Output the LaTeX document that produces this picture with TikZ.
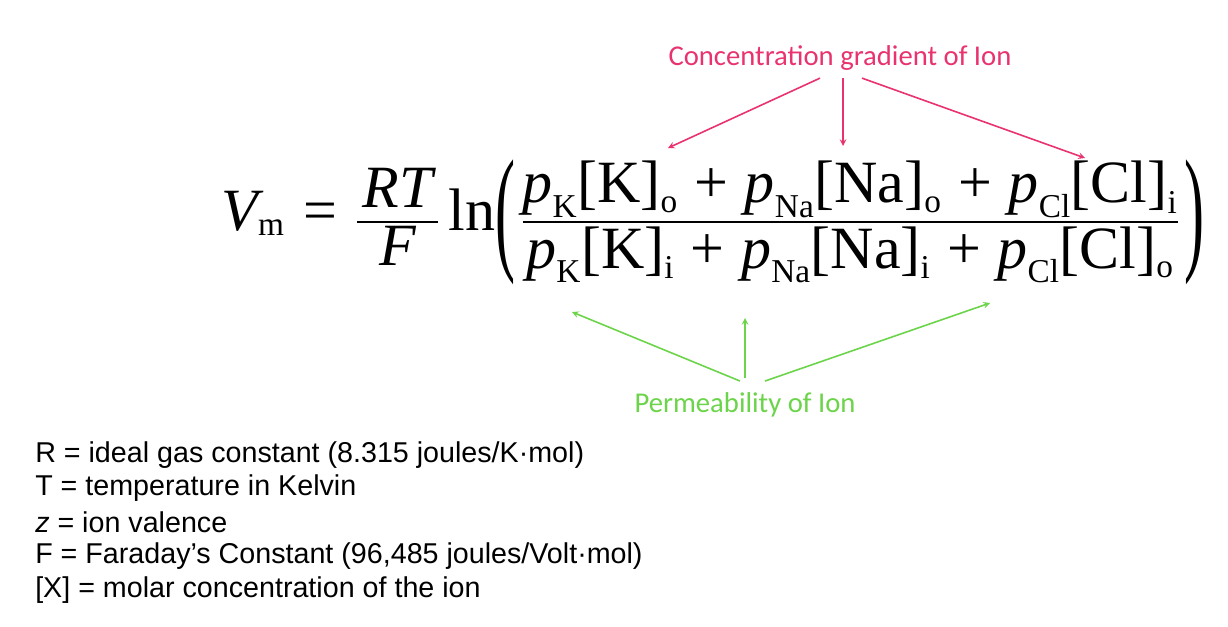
\documentclass[tikz,border=0pt]{standalone}
\usepackage{amsmath}
\usepackage{graphicx}
\usepackage{fontspec}
\setmainfont{Liberation Serif}
\newfontfamily\calib{Carlito}
\newfontfamily\arial{Liberation Sans}
\definecolor{pinkc}{HTML}{E8336E}
\definecolor{greenc}{HTML}{6CD44A}
\newcommand{\vi}[1]{\text{\itshape #1}}
\newcommand{\vu}[1]{\text{\upshape #1}}
\newcommand{\mysub}[1]{_{\hbox{\upshape\fontsize{25}{27}\selectfont #1}}}
\newcommand{\pl}{\;\mathbin{\vu{+}}\;}
\newcommand{\bigpar}[1]{\vcenter{\hbox{\scalebox{1}[2.3]{\upshape #1}}}}
\begin{document}
\begin{tikzpicture}[x=0.75pt,y=-0.75pt,
  lbl/.style={font=\calib\fontsize{21.5}{25}\selectfont},
  desc/.style={anchor=west,font=\arial\fontsize{21.5}{25}\selectfont,inner sep=0},
  parr/.style={draw=pinkc,line width=1.2pt,-stealth},
  garr/.style={draw=greenc,line width=1.2pt,-stealth}]
\useasboundingbox (0,0) rectangle (1228,626);
\node (eq) at (713,222) {\fontsize{45}{52}\selectfont$\vi{V}\mysub{m} \;\mathrel{\vu{=}}\; \dfrac{\,\vi{RT}\,}{\vi{F}}\;\vu{ln}\bigpar{(}\,\dfrac{\vi{p}\mysub{K}\vu{[K]}\mysub{o}\pl\vi{p}\mysub{Na}\vu{[Na]}\mysub{o}\pl\vi{p}\mysub{Cl}\vu{[Cl]}\mysub{i}}{\vi{p}\mysub{K}\vu{[K]}\mysub{i}\pl\vi{p}\mysub{Na}\vu{[Na]}\mysub{i}\pl\vi{p}\mysub{Cl}\vu{[Cl]}\mysub{o}}\,\bigpar{)}$};
\node[lbl,text=pinkc] (conc) at (840,58) {Concentration gradient of Ion};
\node[lbl,text=greenc] (perm) at (745,405) {Permeability of Ion};
\coordinate (t1) at (668,148); \coordinate (t2) at (843,146); \coordinate (t3) at (1085,158);
\coordinate (b1) at (572,312); \coordinate (b2) at (745,318); \coordinate (b3) at (990,303);
\draw[parr] (conc.south)++(-20,3) -- (t1);
\draw[parr] (conc.south)++(3,3) -- (t2);
\draw[parr] (conc.south)++(22,3) -- (t3);
\draw[garr] (perm.north)++(-5,-7) -- (b1);
\draw[garr] (perm.north)++(0,-10) -- (b2);
\draw[garr] (perm.north)++(20,-7) -- (b3);
\node[desc] (d1) at (35,455) {R = ideal gas constant (8.315 joules/K·mol)};
\node[desc] (d2) at (35,488) {T = temperature in Kelvin};
\node[desc] (d3) at (35,522) {\textit{z} = ion valence};
\node[desc] (d4) at (35,556) {F = Faraday’s Constant (96,485 joules/Volt·mol)};
\node[desc] (d5) at (35,590) {[X] = molar concentration of the ion};
\end{tikzpicture}
\end{document}
